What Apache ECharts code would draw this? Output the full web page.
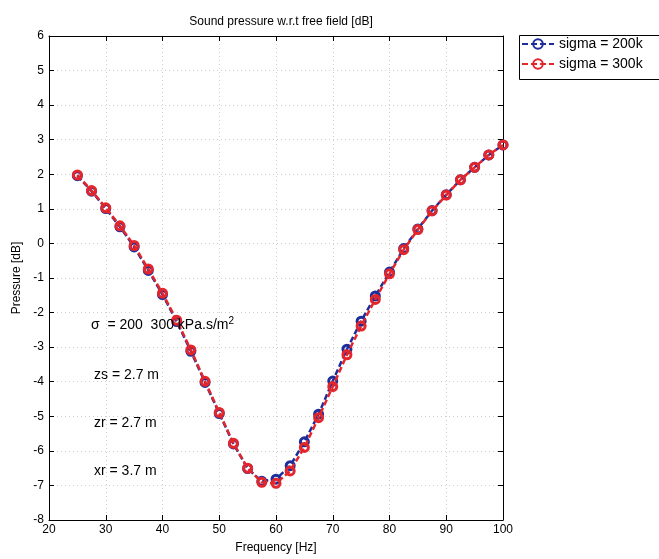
<!DOCTYPE html>
<html>
<head>
<meta charset="utf-8">
<script src="https://cdn.jsdelivr.net/npm/echarts@6/dist/echarts.min.js"></script>
<style>
html,body{margin:0;padding:0;background:#fff;overflow:hidden;}
#c{width:659px;height:559px;}
</style>
</head>
<body>
<div id="c"></div>
<script>
var frequency = [25,27.5,30,32.5,35,37.5,40,42.5,45,47.5,50,52.5,55,57.5,60,62.5,65,67.5,70,72.5,75,77.5,80,82.5,85,87.5,90,92.5,95,97.5,100];
var sigma200 = [1.96,1.51,1.01,0.48,-0.1,-0.78,-1.48,-2.26,-3.12,-4.02,-4.92,-5.8,-6.51,-6.88,-6.82,-6.43,-5.74,-4.94,-3.98,-3.06,-2.25,-1.52,-0.83,-0.15,0.42,0.95,1.41,1.84,2.2,2.56,2.85];
var sigma300 = [1.98,1.53,1.03,0.51,-0.06,-0.74,-1.44,-2.22,-3.08,-3.99,-4.89,-5.78,-6.5,-6.91,-6.94,-6.58,-5.9,-5.04,-4.14,-3.22,-2.39,-1.62,-0.88,-0.18,0.4,0.94,1.4,1.84,2.2,2.56,2.85];
var xTicks = [20,30,40,50,60,70,80,90,100];
var yTicks = [-8,-7,-6,-5,-4,-3,-2,-1,0,1,2,3,4,5,6];
var seriesNames = ['sigma = 200k','sigma = 300k'];
var titleText = 'Sound pressure w.r.t free field [dB]';
var xName = 'Frequency [Hz]';
var yName = 'Pressure [dB]';
var notes = ['zs = 2.7 m','zr = 2.7 m','xr = 3.7 m'];

function pairs(xs, ys){ return xs.map(function(x,i){ return [x, ys[i]]; }); }

var font = 'Liberation Sans, Arial, sans-serif';
var grid = {left:49,right:156,top:36,bottom:38,containLabel:false};
var split = {show:true,lineStyle:{color:'#cfcfcf',type:[1,3],width:1}};
var axisLine = {show:true,onZero:false,lineStyle:{color:'#000',width:1}};
var tick = {show:true,inside:true,length:5,lineStyle:{color:'#000',width:1}};

var chart = echarts.init(document.getElementById('c'),null,{renderer:'canvas'});
chart.setOption({
  animation:false,
  backgroundColor:'#fff',
  textStyle:{fontFamily:font},
  title:{text:titleText,left:276,textAlign:'center',top:11,
    textStyle:{fontSize:12,fontWeight:'normal',color:'#000',fontFamily:font}},
  legend:{
    orient:'vertical',left:517,top:33,
    data:seriesNames,
    itemWidth:32,itemHeight:12,itemGap:6,
    padding:[4,4,4,4],
    borderWidth:0,
    textStyle:{fontSize:14,color:'#000',fontFamily:font}
  },
  grid:grid,
  xAxis:[{
    type:'value',min:20,max:100,interval:10,
    name:xName,nameLocation:'middle',nameGap:22,
    nameTextStyle:{fontSize:12,color:'#000',fontFamily:font},
    axisLine:axisLine,axisTick:tick,splitLine:split,
    axisLabel:{fontSize:12,color:'#000',margin:4,fontFamily:font}
  },{
    type:'value',min:20,max:100,interval:10,position:'top',
    axisLine:axisLine,axisTick:tick,splitLine:{show:false},axisLabel:{show:false}
  }],
  yAxis:[{
    type:'value',min:-8,max:6,interval:1,
    name:yName,nameLocation:'middle',nameGap:24,nameRotate:90,
    nameTextStyle:{fontSize:12,color:'#000',fontFamily:font},
    axisLine:axisLine,axisTick:tick,splitLine:split,
    axisLabel:{fontSize:12,color:'#000',margin:5,fontFamily:font}
  },{
    type:'value',min:-8,max:6,interval:1,position:'right',
    axisLine:axisLine,axisTick:tick,splitLine:{show:false},axisLabel:{show:false}
  }],
  series:[{
    name:seriesNames[0],type:'line',data:pairs(frequency,sigma200),
    symbol:'circle',symbolSize:8,showAllSymbol:true,
    lineStyle:{color:'#1c2d9c',width:2.5,type:[6,3]},
    itemStyle:{color:'rgba(255,255,255,0)',borderColor:'#1c2d9c',borderWidth:3},
    z:2
  },{
    name:seriesNames[1],type:'line',data:pairs(frequency,sigma300),
    symbol:'circle',symbolSize:8,showAllSymbol:true,
    lineStyle:{color:'#e3262b',width:2.5,type:[6,3]},
    itemStyle:{color:'rgba(255,255,255,0)',borderColor:'#e3262b',borderWidth:3},
    z:3
  }],
  graphic:[
    {type:'rect',left:517,top:33,z:1,silent:true,
      shape:{width:200,height:44},
      style:{fill:'none',stroke:'#000',lineWidth:1}},
    {type:'text',left:91,top:316,z:10,style:{
      text:'σ  = 200  300 kPa.s/m{sup|2}',
      font:'14px '+font,fill:'#000',
      rich:{sup:{fontSize:10,verticalAlign:'top',padding:[0,0,8,0],fill:'#000'}}
    }},
    {type:'text',left:94,top:368,z:10,style:{text:notes[0],font:'14px '+font,fill:'#000'}},
    {type:'text',left:94,top:416,z:10,style:{text:notes[1],font:'14px '+font,fill:'#000'}},
    {type:'text',left:94,top:464,z:10,style:{text:notes[2],font:'14px '+font,fill:'#000'}}
  ]
});
</script>
</body>
</html>
